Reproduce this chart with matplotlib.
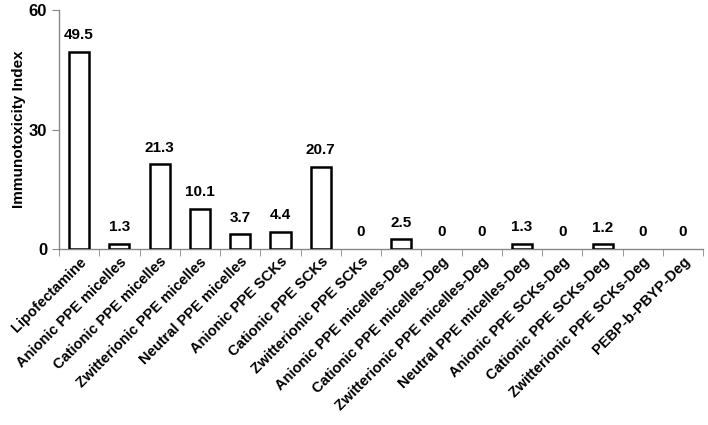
import numpy as np
import matplotlib.pyplot as plt

plt.rcParams['font.family'] = ['Liberation Sans', 'DejaVu Sans']
plt.rcParams['font.weight'] = 'bold'

categories = ['Lipofectamine', 'Anionic PPE micelles', 'Cationic PPE micelles',
              'Zwitterionic PPE micelles', 'Neutral PPE micelles', 'Anionic PPE SCKs',
              'Cationic PPE SCKs', 'Zwitterionic PPE SCKs', 'Anionic PPE micelles-Deg',
              'Cationic PPE micelles-Deg', 'Zwitterionic PPE micelles-Deg',
              'Neutral PPE micelles-Deg', 'Anionic PPE SCKs-Deg', 'Cationic PPE SCKs-Deg',
              'Zwitterionic PPE SCKs-Deg', 'PEBP-b-PBYP-Deg']
values = [49.5, 1.3, 21.3, 10.1, 3.7, 4.4, 20.7, 0, 2.5, 0, 0, 1.3, 0, 1.2, 0, 0]
labels = ['49.5', '1.3', '21.3', '10.1', '3.7', '4.4', '20.7', '0', '2.5', '0', '0',
          '1.3', '0', '1.2', '0', '0']

fig = plt.figure(figsize=(7.08, 4.25), dpi=100)
ax = fig.add_axes([0.0833, 0.414, 0.910, 0.562])

x = np.arange(len(categories))
bars = ax.bar(x, values, width=0.5, color='white', edgecolor='black', linewidth=1.8, zorder=3)
# zero-height bars are invisible in the original
for b, v in zip(bars, values):
    if v == 0:
        b.set_linewidth(0)

for xi, v, lab in zip(x, values, labels):
    ax.text(xi, v + 2.4, lab, ha='center', va='bottom', fontsize=11, fontweight='bold')

ax.set_xlim(-0.5, len(categories) - 0.5)
ax.set_ylim(0, 60)
ax.set_yticks([0, 30, 60])
ax.set_yticklabels(['0', '30', '60'], fontsize=12, fontweight='bold')
ax.set_ylabel('Immunotoxicity Index', fontsize=11, fontweight='bold', labelpad=2)

ax.set_xticks(x)
ax.set_xticklabels(categories, rotation=45, ha='right', rotation_mode='anchor',
                   fontsize=10.5, fontweight='bold')
ax.tick_params(axis='x', length=0, pad=4)
ax.set_xticks(np.arange(-0.5, len(categories)), minor=True)
ax.tick_params(axis='x', which='minor', length=5, color='#888888', direction='out')
ax.tick_params(axis='y', length=5, color='#888888', direction='out')

for side in ['top', 'right']:
    ax.spines[side].set_visible(False)
for side in ['left', 'bottom']:
    ax.spines[side].set_color('#888888')
    ax.spines[side].set_linewidth(1.0)

fig.savefig('out.png', dpi=100)
